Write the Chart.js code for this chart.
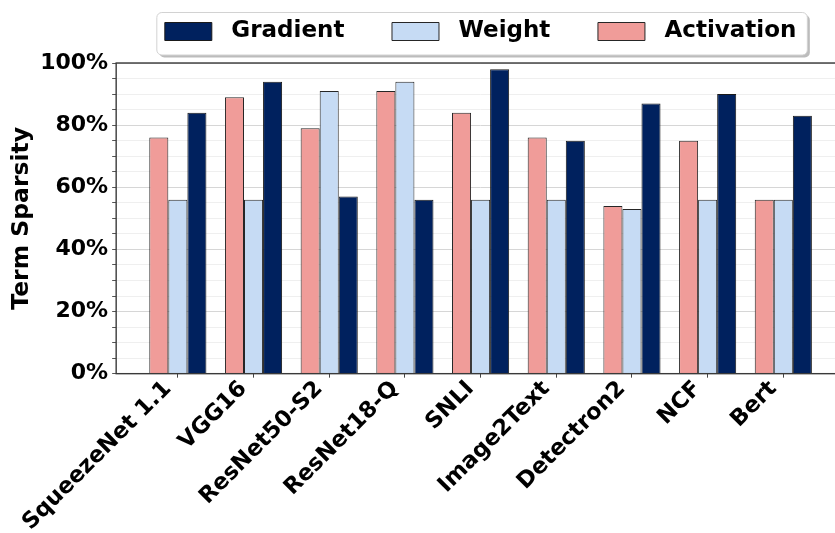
<!DOCTYPE html>
<html>
<head>
<meta charset="utf-8">
<script src="https://cdn.jsdelivr.net/npm/chart.js@4"></script>
<style>
  html, body { margin: 0; padding: 0; background: #fff; overflow: hidden; }
  #wrap { width: 835px; height: 533px; overflow: hidden; position: relative; }
  canvas { display: block; }
</style>
</head>
<body>
<div id="wrap"><canvas id="c" width="846" height="534"></canvas></div>
<script>
// Workloads on the x axis
const categories = ['SqueezeNet 1.1', 'VGG16', 'ResNet50-S2', 'ResNet18-Q', 'SNLI', 'Image2Text', 'Detectron2', 'NCF', 'Bert'];
// Term sparsity (%) per tensor type
const activation = [76, 89, 79, 91, 84, 76, 54, 75, 56];
const weight     = [56, 56, 91, 94, 56, 56, 53, 56, 56];
const gradient   = [84, 94, 57, 56, 98, 75, 87, 90, 83];
// Labelled y ticks
const yTickLabels = [0, 20, 40, 60, 80, 100];

const FONT = 'DejaVu Sans';
Chart.defaults.font.family = FONT;
Chart.defaults.font.weight = 'bold';
Chart.defaults.color = '#000';

const points = arr => arr.map((v, i) => ({ x: i, y: v }));

// Extra gap between the legend row and the plot area
const legendGap = {
  id: 'legendGap',
  afterInit(chart) {
    const lg = chart.legend;
    if (!lg || lg._gapPatched) return;
    const fit = lg.fit;
    lg.fit = function () {
      fit.call(this);
      this.height += 10;
    };
    lg._gapPatched = true;
  }
};

// Rounded legend frame with a soft drop shadow
const legendFrame = {
  id: 'legendFrame',
  beforeDraw(chart) {
    const hb = chart.legend && chart.legend.legendHitBoxes;
    if (!hb || !hb.length) return;
    const first = hb[0], last = hb[hb.length - 1];
    const x0 = first.left - 8, x1 = last.left + last.width + 11;
    const y0 = first.top - 7.5, y1 = first.top + first.height + 12;
    const ctx = chart.ctx;
    const rr = (x, y, w, h, r) => {
      ctx.beginPath();
      ctx.moveTo(x + r, y);
      ctx.arcTo(x + w, y, x + w, y + h, r);
      ctx.arcTo(x + w, y + h, x, y + h, r);
      ctx.arcTo(x, y + h, x, y, r);
      ctx.arcTo(x, y, x + w, y, r);
      ctx.closePath();
    };
    ctx.save();
    rr(x0 + 2.5, y0 + 2.5, x1 - x0, y1 - y0, 5);
    ctx.fillStyle = '#bcbcbc';
    ctx.fill();
    rr(x0, y0, x1 - x0, y1 - y0, 5);
    ctx.fillStyle = '#fff';
    ctx.fill();
    ctx.strokeStyle = '#d2d2d2';
    ctx.lineWidth = 1;
    ctx.stroke();
    ctx.restore();
  }
};

// Axes frame: left, top and bottom spines
const spines = {
  id: 'spines',
  afterDatasetsDraw(chart) {
    const { ctx, chartArea: a } = chart;
    ctx.save();
    ctx.strokeStyle = '#3a3a3a';
    ctx.lineWidth = 1.4;
    ctx.strokeRect(a.left, a.top, a.right - a.left, a.bottom - a.top);
    ctx.restore();
  }
};

new Chart(document.getElementById('c'), {
  type: 'bar',
  data: {
    datasets: [
      { label: 'Activation', data: points(activation), backgroundColor: '#f09c99', borderColor: '#262626', borderWidth: 1 },
      { label: 'Weight',     data: points(weight),     backgroundColor: '#c6dbf4', borderColor: '#262626', borderWidth: 1 },
      { label: 'Gradient',   data: points(gradient),   backgroundColor: '#00215e', borderColor: '#1a1a1a', borderWidth: 1 }
    ]
  },
  options: {
    responsive: false,
    animation: false,
    categoryPercentage: 0.755,
    barPercentage: 1.0,
    layout: { padding: { left: 3, right: 1, top: 0, bottom: 0 } },
    plugins: {
      tooltip: { enabled: false },
      legend: {
        position: 'top',
        fullSize: false,
        reverse: true,
        labels: {
          boxWidth: 47,
          boxHeight: 18,
          padding: 20,
          color: '#000',
          font: { size: 23, weight: 'bold', family: FONT },
          generateLabels(chart) {
            const items = Chart.defaults.plugins.legend.labels.generateLabels(chart);
            items.forEach(it => {
              it.text = ' ' + it.text + (it.datasetIndex === 0 ? '' : '\u2002\u2002\u2009');
              it.lineWidth = 1;
            });
            return items;
          }
        }
      }
    },
    scales: {
      x: {
        type: 'linear',
        min: -0.815,
        max: 8.815,
        offset: false,
        grid: { offset: false, drawOnChartArea: false, drawTicks: true, tickLength: 4, color: '#444', tickColor: '#444' },
        border: { display: false },
        afterBuildTicks(scale) {
          scale.ticks = categories.map((_, i) => ({ value: i }));
        },
        ticks: {
          autoSkip: false,
          minRotation: 45,
          maxRotation: 45,
          padding: -2,
          labelOffset: -10,
          color: '#000',
          font: { size: 22.5, weight: 'bold', family: FONT },
          callback: v => categories[v]
        }
      },
      y: {
        min: 0,
        max: 100,
        border: { display: false },
        grid: {
          color: c => (c.tick && c.tick.value % 20 === 0) ? '#d6d6d6' : '#efefef',
          lineWidth: 1,
          drawTicks: true,
          tickLength: 4,
          tickColor: '#555'
        },
        ticks: {
          stepSize: 5,
          autoSkip: false,
          padding: 4,
          color: '#000',
          font: { size: 22, weight: 'bold', family: FONT },
          callback: v => yTickLabels.includes(v) ? v + '%' : ''
        },
        title: {
          display: true,
          text: 'Term Sparsity',
          color: '#000',
          font: { size: 23.5, weight: 'bold', family: FONT },
          padding: { top: 5, bottom: 0 }
        }
      }
    }
  },
  plugins: [legendGap, legendFrame, spines]
});
</script>
</body>
</html>
